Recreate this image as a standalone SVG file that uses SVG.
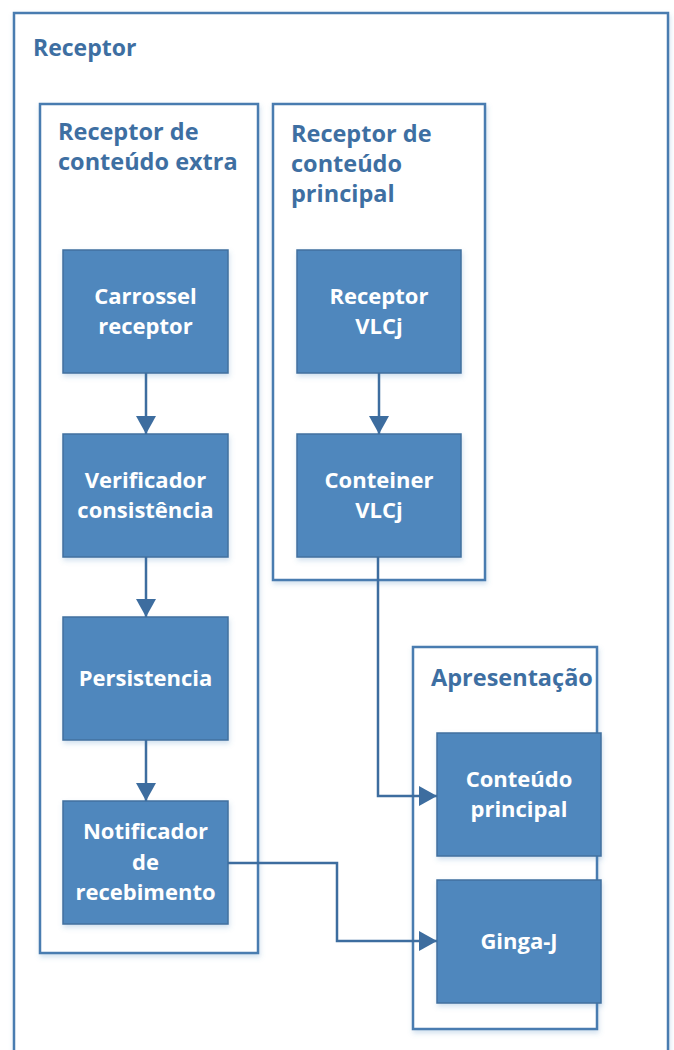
<svg xmlns="http://www.w3.org/2000/svg" width="674" height="1050" viewBox="0 0 674 1050">
  <style>
    .frame { fill: #ffffff; stroke: #4a7bb0; stroke-width: 2.5; }
    .node { fill: #4f87bd; stroke: #41709f; stroke-width: 1.5; }
    .title { font-family: "Open Sans", "Liberation Sans", sans-serif; font-weight: bold; font-size: 23.5px; fill: #3e6fa2; }
    .title.top { font-size: 23px; }
    .label { font-family: "Open Sans", "Liberation Sans", sans-serif; font-weight: bold; font-size: 22px; fill: #ffffff; text-anchor: middle; }
    .wire { fill: none; stroke: #3d6d9f; stroke-width: 2.5; marker-end: url(#head); }
  </style>
  <defs>
    <filter id="shade" x="-10%" y="-10%" width="125%" height="125%">
      <feDropShadow dx="1" dy="3" stdDeviation="2.5" flood-color="#4f87bd" flood-opacity="0.25"/>
    </filter>
    <marker id="head" markerUnits="userSpaceOnUse" markerWidth="20" markerHeight="20" refX="18" refY="10" orient="auto">
      <path d="M0,0 L18,10 L0,20 Z" fill="#3d6d9f"/>
    </marker>
  </defs>

  <rect width="674" height="1050" fill="#ffffff"/>

  <!-- outer receiver frame -->
  <g id="receptor">
    <rect class="frame" x="14" y="13" width="654" height="1060" filter="url(#shade)"/>
    <text class="title top" x="33" y="56">Receptor</text>
  </g>

  <!-- extra content receiver -->
  <g id="receptor-extra">
    <rect class="frame" x="40" y="104" width="218" height="849" filter="url(#shade)"/>
    <text class="title" x="58" y="140">Receptor de</text>
    <text class="title" x="58" y="170">conteúdo extra</text>
  </g>

  <!-- main content receiver -->
  <g id="receptor-principal">
    <rect class="frame" x="273" y="104" width="212" height="476" filter="url(#shade)"/>
    <text class="title" x="291" y="142">Receptor de</text>
    <text class="title" x="291" y="172">conteúdo</text>
    <text class="title" x="291" y="202">principal</text>
  </g>

  <!-- presentation -->
  <g id="apresentacao">
    <rect class="frame" x="413" y="647" width="184" height="382" filter="url(#shade)"/>
    <text class="title" x="431" y="686">Apresentação</text>
  </g>

  <g id="carrossel">
    <rect class="node" x="63" y="250" width="165" height="123" filter="url(#shade)"/>
    <text class="label" x="145.5" y="304">Carrossel</text>
    <text class="label" x="145.5" y="334">receptor</text>
  </g>

  <g id="verificador">
    <rect class="node" x="63" y="434" width="165" height="123" filter="url(#shade)"/>
    <text class="label" x="145.5" y="488">Verificador</text>
    <text class="label" x="145.5" y="518">consistência</text>
  </g>

  <g id="persistencia">
    <rect class="node" x="63" y="617" width="165" height="123" filter="url(#shade)"/>
    <text class="label" x="145.5" y="686">Persistencia</text>
  </g>

  <g id="notificador">
    <rect class="node" x="63" y="801" width="165" height="123" filter="url(#shade)"/>
    <text class="label" x="145.5" y="839">Notificador</text>
    <text class="label" x="145.5" y="870">de</text>
    <text class="label" x="145.5" y="900">recebimento</text>
  </g>

  <g id="receptor-vlcj">
    <rect class="node" x="297" y="250" width="164" height="123" filter="url(#shade)"/>
    <text class="label" x="379" y="304">Receptor</text>
    <text class="label" x="379" y="334">VLCj</text>
  </g>

  <g id="conteiner-vlcj">
    <rect class="node" x="297" y="434" width="164" height="123" filter="url(#shade)"/>
    <text class="label" x="379" y="488">Conteiner</text>
    <text class="label" x="379" y="518">VLCj</text>
  </g>

  <g id="conteudo-principal">
    <rect class="node" x="437" y="733" width="164" height="123" filter="url(#shade)"/>
    <text class="label" x="519" y="787">Conteúdo</text>
    <text class="label" x="519" y="817">principal</text>
  </g>

  <g id="ginga-j">
    <rect class="node" x="437" y="880" width="164" height="123" filter="url(#shade)"/>
    <text class="label" x="519" y="949">Ginga-J</text>
  </g>

  <!-- connectors -->
  <g id="connectors">
    <path class="wire" d="M146,373 V434"/>
    <path class="wire" d="M146,557 V617"/>
    <path class="wire" d="M146,740 V801"/>
    <path class="wire" d="M379,373 V434"/>
    <path class="wire" d="M378,557 V796 H437"/>
    <path class="wire" d="M228,863 H337 V941 H437"/>
  </g>
</svg>
